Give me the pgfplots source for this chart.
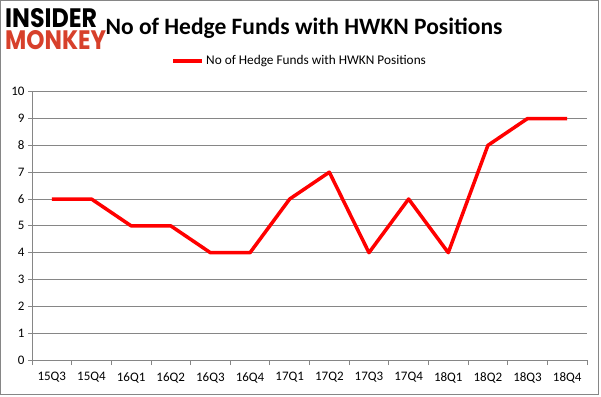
\documentclass[border=0pt]{standalone}
\usepackage{pgfplots}
\pgfplotsset{compat=1.18}
\usepackage{fontspec}
\setmainfont{Carlito}
\newfontfamily\logofont{Poppins}
\definecolor{gridgray}{HTML}{868686}
\definecolor{monkeyred}{HTML}{D7402B}
\begin{document}
\begin{tikzpicture}[x=1pt,y=1pt]
\useasboundingbox (0,0) rectangle (601,396);
\draw[gridgray,line width=1pt] (0.5,1.5) rectangle (598.5,395.5);
\begin{axis}[
  at={(32pt,36pt)}, anchor=south west,
  scale only axis, width=555pt, height=268.3pt,
  xmin=-0.5, xmax=13.5, ymin=0, ymax=10,
  axis x line*=bottom, axis y line*=left,
  axis line style={gridgray, line width=0.8pt},
  ytick={0,1,...,10},
  xtick={0,...,13},
  xticklabels={15Q3,15Q4,16Q1,16Q2,16Q3,16Q4,17Q1,17Q2,17Q3,17Q4,18Q1,18Q2,18Q3,18Q4},
  minor xtick={-0.5,0.5,...,13.5},
  major x tick style={draw=none},
  tick align=outside,
  major tick length=4pt, minor tick length=5pt,
  tick style={gridgray, line width=0.8pt},
  ymajorgrids, major grid style={gridgray, line width=0.8pt},
  tick label style={font=\fontsize{13}{15}\selectfont},
  /pgf/number format/assume math mode=true,
  xticklabel style={yshift=-5pt},
  clip=false,
]
\addplot[red, line width=3.5pt, line join=round] coordinates {
(0,6)(1,6)(2,5)(3,5)(4,4)(5,4)(6,6)(7,7)(8,4)(9,6)(10,4)(11,8)(12,9)(13,9)};
\end{axis}
\node[font=\fontsize{23.5}{26}\selectfont\bfseries, anchor=base] at (304,361) {No of Hedge Funds with HWKN Positions};
\draw[red, line width=3.5pt] (173,335) -- (202,335);
\node[font=\fontsize{13.3}{15}\selectfont, anchor=west, inner sep=0pt] at (206,335) {No of Hedge Funds with HWKN Positions};
\fill[white] (3,345) rectangle (104,390);
\node[anchor=north west, inner sep=0pt] at (5,388) {\resizebox{92pt}{19pt}{\logofont\bfseries INSIDER}};
\node[anchor=north west, inner sep=0pt] at (5,366) {\resizebox{101pt}{19pt}{\logofont\bfseries\color{monkeyred}MONKEY}};
\end{tikzpicture}
\end{document}
